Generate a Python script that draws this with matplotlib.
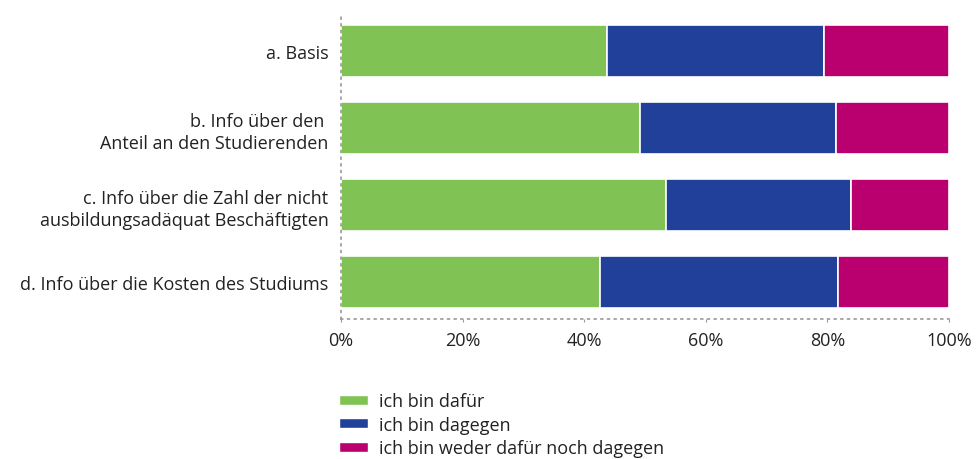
import numpy as np
import matplotlib.pyplot as plt
from matplotlib.patches import Patch

plt.rcParams['font.family'] = ['Open Sans', 'DejaVu Sans']

categories = ['a. Basis',
              'b. Info über den \nAnteil an den Studierenden',
              'c. Info über die Zahl der nicht\nausbildungsadäquat Beschäftigten',
              'd. Info über die Kosten des Studiums']
dafuer = [43.7, 49.2, 53.5, 42.6]
dagegen = [35.7, 32.2, 30.4, 39.1]
weder = [20.6, 18.6, 16.1, 18.3]
series_names = ['ich bin dafür', 'ich bin dagegen', 'ich bin weder dafür noch dagegen']
colors = ['#80c354', '#21409a', '#ba006e']
xticks = [0, 20, 40, 60, 80, 100]

fig = plt.figure(figsize=(9.76, 4.60), dpi=100)
ax = fig.add_axes([341 / 976, 1 - 320 / 460, 608 / 976, 305 / 460])

y = np.arange(len(categories))
left = np.zeros(len(categories))
for vals, c in zip([dafuer, dagegen, weder], colors):
    ax.barh(y, vals, left=left, height=0.675, color=c, edgecolor='white', linewidth=1.2)
    left += np.array(vals)

ax.set_xlim(0, 100)
ax.set_ylim(3.48, -0.48)
ax.set_yticks(y)
ax.set_yticklabels(categories, fontsize=13, color='#222222', linespacing=1.3)
ax.set_xticks(xticks)
ax.set_xticklabels(['%d%%' % t for t in xticks], fontsize=13, color='#222222')
ax.tick_params(axis='y', length=0, pad=9)
ax.tick_params(axis='x', length=2, color='#999999', pad=7)

for s in ['top', 'right']:
    ax.spines[s].set_visible(False)
for s in ['left', 'bottom']:
    ax.spines[s].set_linestyle((0, (1, 3)))
    ax.spines[s].set_color('#999999')
    ax.spines[s].set_linewidth(1.2)

handles = [Patch(facecolor=c, edgecolor='white', label=n) for c, n in zip(colors, series_names)]
fig.legend(handles=handles, loc='upper left', bbox_to_anchor=(323 / 976, 1 - 377 / 460),
           frameon=False, fontsize=13, handlelength=1.6, handleheight=0.5,
           labelspacing=0.3, handletextpad=0.6, labelcolor='#222222')

fig.savefig('out.png', dpi=100)
